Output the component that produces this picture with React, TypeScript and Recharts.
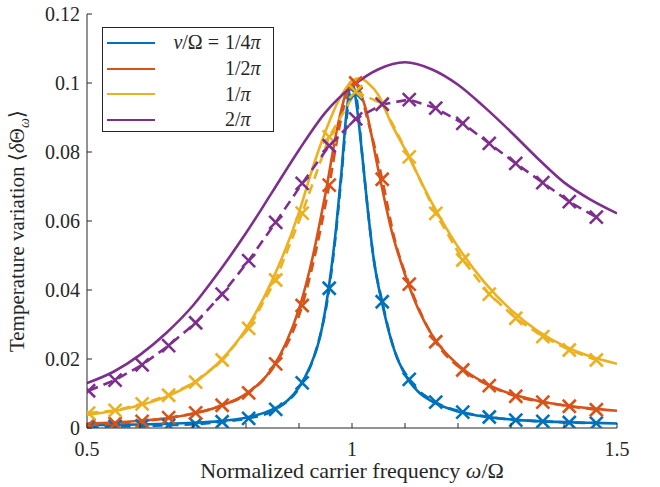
import React from 'react';
import { LineChart, Line, XAxis, YAxis, Legend, Label } from 'recharts';

const FONT = "'Liberation Serif', 'DejaVu Serif', 'Noto Serif', 'Times New Roman', Times, serif";
const AXIS = '#262626';

const colors = ['#0072BD', '#D95319', '#EDB120', '#7E2F8E'];
const legendValues = ['1/4', '1/2', '1/', '2/'];

const xTicks = [0.5, 0.6, 0.7, 0.8, 0.9, 1.0, 1.1, 1.2, 1.3, 1.4, 1.5];
const xTickLabels = ['0.5', '', '', '', '', '1', '', '', '', '', '1.5'];
const yTicks = [0, 0.02, 0.04, 0.06, 0.08, 0.1, 0.12];
const yTickLabels = ['0', '0.02', '0.04', '0.06', '0.08', '0.1', '0.12'];

// simulated points (x markers)
const simX = [0.503, 0.553, 0.604, 0.654, 0.705, 0.755, 0.805, 0.856, 0.906, 0.957, 1.007, 1.057, 1.108, 1.158, 1.209, 1.259, 1.309, 1.36, 1.41, 1.461];
const blueSim = [0.0004, 0.0005, 0.0006, 0.0008, 0.0011, 0.0018, 0.0028, 0.0054, 0.0131, 0.0405, 0.097, 0.0366, 0.0141, 0.0075, 0.0046, 0.0032, 0.0023, 0.0019, 0.0016, 0.0014];
const orangeSim = [0.0009, 0.0013, 0.0019, 0.003, 0.0044, 0.0066, 0.0102, 0.0186, 0.0355, 0.0704, 0.1, 0.0721, 0.0417, 0.025, 0.0168, 0.0123, 0.0092, 0.0075, 0.0063, 0.0053];
const yellowSim = [0.0043, 0.0051, 0.007, 0.0095, 0.0133, 0.0197, 0.0289, 0.0429, 0.0623, 0.0844, 0.0975, 0.094, 0.0786, 0.0622, 0.0487, 0.0388, 0.0318, 0.0265, 0.0226, 0.0197];
const purpleSim = [0.0108, 0.0139, 0.0183, 0.0239, 0.0305, 0.0388, 0.0485, 0.0596, 0.0709, 0.0818, 0.0896, 0.0938, 0.0952, 0.0927, 0.0883, 0.0825, 0.0767, 0.0711, 0.0656, 0.0611];

// dashed simulation curves near the narrow peaks (they run under the solid lines)
const blueDashX = [0.503, 0.553, 0.604, 0.654, 0.705, 0.755, 0.805, 0.856, 0.906, 0.93, 0.957, 0.97, 0.98, 0.99, 1.0, 1.007, 1.02, 1.03, 1.04, 1.057, 1.08, 1.108, 1.158, 1.209, 1.259, 1.309, 1.36, 1.41, 1.461];
const blueDashY = [0.0004, 0.0005, 0.0006, 0.0008, 0.0011, 0.0018, 0.0028, 0.0054, 0.0131, 0.0215, 0.0405, 0.057, 0.073, 0.09, 0.099, 0.097, 0.078, 0.063, 0.05, 0.0366, 0.0225, 0.0141, 0.0075, 0.0046, 0.0032, 0.0023, 0.0019, 0.0016, 0.0014];
const orangeDashX = [0.503, 0.553, 0.604, 0.654, 0.705, 0.755, 0.805, 0.856, 0.906, 0.93, 0.957, 0.98, 1.0, 1.007, 1.03, 1.057, 1.08, 1.108, 1.158, 1.209, 1.259, 1.309, 1.36, 1.41, 1.461];
const orangeDashY = [0.0009, 0.0013, 0.0019, 0.003, 0.0044, 0.0066, 0.0102, 0.0186, 0.0355, 0.05, 0.0704, 0.09, 0.1, 0.1, 0.089, 0.0721, 0.055, 0.0417, 0.025, 0.0168, 0.0123, 0.0092, 0.0075, 0.0063, 0.0053];

// theory curves (solid)
const blueX = [0.5, 0.55, 0.6, 0.65, 0.7, 0.75, 0.8, 0.85, 0.88, 0.9, 0.92, 0.94, 0.96, 0.97, 0.98, 0.99, 1.0, 1.01, 1.02, 1.03, 1.04, 1.06, 1.08, 1.1, 1.125, 1.15, 1.2, 1.25, 1.3, 1.35, 1.4, 1.45, 1.5];
const blueY = [0.0008, 0.0009, 0.001, 0.0012, 0.0015, 0.002, 0.003, 0.0054, 0.0082, 0.0118, 0.0175, 0.0265, 0.045, 0.058, 0.074, 0.092, 0.1003, 0.092, 0.078, 0.063, 0.05, 0.034, 0.0225, 0.0155, 0.0105, 0.0078, 0.0048, 0.0033, 0.0025, 0.002, 0.0017, 0.0015, 0.0013];
const orangeX = [0.5, 0.55, 0.6, 0.65, 0.7, 0.75, 0.8, 0.85, 0.875, 0.9, 0.925, 0.95, 0.975, 1.0, 1.025, 1.05, 1.075, 1.1, 1.125, 1.15, 1.2, 1.25, 1.3, 1.35, 1.4, 1.45, 1.5];
const orangeY = [0.0013, 0.0016, 0.0021, 0.0028, 0.0041, 0.0063, 0.0099, 0.0175, 0.0245, 0.0345, 0.049, 0.068, 0.089, 0.1005, 0.093, 0.0745, 0.057, 0.0445, 0.0345, 0.0272, 0.0183, 0.0131, 0.0099, 0.0079, 0.0066, 0.0057, 0.005];
const yellowX = [0.5, 0.55, 0.6, 0.65, 0.7, 0.75, 0.8, 0.85, 0.9, 0.925, 0.95, 0.975, 1.0, 1.015, 1.03, 1.05, 1.075, 1.1, 1.15, 1.2, 1.25, 1.3, 1.35, 1.4, 1.45, 1.5];
const yellowY = [0.0038, 0.0049, 0.0066, 0.0091, 0.013, 0.0192, 0.0287, 0.043, 0.0625, 0.075, 0.086, 0.095, 0.1005, 0.1014, 0.1, 0.0965, 0.088, 0.0808, 0.0655, 0.0525, 0.0422, 0.0342, 0.0282, 0.0238, 0.0207, 0.0186];
const purpleX = [0.5, 0.55, 0.6, 0.65, 0.7, 0.75, 0.8, 0.85, 0.9, 0.95, 1.0, 1.05, 1.1, 1.15, 1.2, 1.25, 1.3, 1.35, 1.4, 1.45, 1.5];
const purpleY = [0.013, 0.0163, 0.0212, 0.0276, 0.0355, 0.0455, 0.0565, 0.0685, 0.0806, 0.0915, 0.099, 0.104, 0.106, 0.104, 0.0995, 0.093, 0.0858, 0.0782, 0.0712, 0.0662, 0.0622];

const pts = (xs: number[], ys: number[]) => xs.map((x, i) => ({ x, y: ys[i] }));

const theory = [pts(blueX, blueY), pts(orangeX, orangeY), pts(yellowX, yellowY), pts(purpleX, purpleY)];
const sims = [pts(simX, blueSim), pts(simX, orangeSim), pts(simX, yellowSim), pts(simX, purpleSim)];
const dashes = [pts(blueDashX, blueDashY), pts(orangeDashX, orangeDashY), sims[2], sims[3]];
const dashTypes: ('monotone' | 'linear')[] = ['monotone', 'monotone', 'linear', 'linear'];

const XMark = (props: any) => {
  const { cx, cy, index, color } = props;
  if (cx == null || cy == null) return <g key={`e${index}`} />;
  const s = 6.5;
  return (
    <path
      key={`m${index}`}
      d={`M${cx - s},${cy - s}L${cx + s},${cy + s}M${cx - s},${cy + s}L${cx + s},${cy - s}`}
      stroke={color}
      strokeWidth={2.6}
      fill="none"
    />
  );
};

const BottomTick = ({ x, y, index }: any) => (
  <g>
    <line x1={x} x2={x} y1={y} y2={y - 5} stroke={AXIS} />
    {xTickLabels[index] && (
      <text x={x} y={y + 28} textAnchor="middle" fontFamily={FONT} fontSize={20} fill={AXIS}>
        {xTickLabels[index]}
      </text>
    )}
  </g>
);
const TopTick = ({ x, y }: any) => <line x1={x} x2={x} y1={y} y2={y + 5} stroke={AXIS} />;
const LeftTick = ({ x, y, index }: any) => (
  <g>
    <line x1={x} x2={x + 5} y1={y} y2={y} stroke={AXIS} />
    <text x={x - 7} y={y + 7} textAnchor="end" fontFamily={FONT} fontSize={20} fill={AXIS}>
      {yTickLabels[index]}
    </text>
  </g>
);
const RightTick = ({ x, y }: any) => <line x1={x} x2={x - 5} y1={y} y2={y} stroke={AXIS} />;

const XTitle = ({ viewBox }: any) => (
  <text x={viewBox.x + viewBox.width / 2} y={viewBox.y + 50} textAnchor="middle" fontFamily={FONT} fontSize={22} fill={AXIS}>
    Normalized carrier frequency <tspan fontStyle="italic">ω</tspan>/Ω
  </text>
);
const YTitle = ({ viewBox }: any) => {
  const cx = 24;
  const cy = viewBox.y + viewBox.height / 2 + 10;
  return (
    <text x={cx} y={cy} transform={`rotate(-90 ${cx} ${cy})`} textAnchor="middle" fontFamily={FONT} fontSize={21} fill={AXIS}>
      Temperature variation ⟨<tspan fontStyle="italic">δ</tspan>Θ
      <tspan fontStyle="italic" fontSize={14} dy={5}>ω</tspan>
      <tspan dy={-5}>⟩</tspan>
    </text>
  );
};

const LegendBox = () => (
  <div style={{ border: `1px solid ${AXIS}`, background: '#fff', width: 172, height: 105, boxSizing: 'border-box', paddingTop: 2, fontFamily: FONT, fontSize: 20, color: AXIS }}>
    {legendValues.map((v, i) => (
      <div key={v} style={{ display: 'flex', alignItems: 'center', height: 25.7 }}>
        <div style={{ width: 48, marginLeft: 4, borderTop: `2.6px solid ${colors[i]}` }} />
        <div style={{ width: 70, textAlign: 'right', paddingRight: 6, boxSizing: 'border-box', whiteSpace: 'nowrap' }}>
          {i === 0 ? (
            <span>
              <i>ν</i>/Ω =
            </span>
          ) : null}
        </div>
        <div style={{ whiteSpace: 'nowrap' }}>
          {v}
          <i>π</i>
        </div>
      </div>
    ))}
  </div>
);

export default function App() {
  return (
    <div style={{ position: 'absolute', left: 0, top: 0, background: '#fff' }}>
      <LineChart width={660} height={487} margin={{ top: 14, right: 43, bottom: 0, left: 0 }}>
        <XAxis
          dataKey="x"
          type="number"
          domain={[0.5, 1.5]}
          ticks={xTicks}
          interval={0}
          height={59}
          tickSize={0}
          tickMargin={0}
          tickLine={false}
          tick={<BottomTick />}
          axisLine={{ stroke: AXIS }}
          allowDataOverflow
        >
          <Label content={<XTitle />} />
        </XAxis>
        <XAxis
          xAxisId="top"
          orientation="top"
          dataKey="x"
          type="number"
          domain={[0.5, 1.5]}
          ticks={xTicks}
          interval={0}
          height={0}
          tickSize={0}
          tickMargin={0}
          tickLine={false}
          tick={<TopTick />}
          axisLine={{ stroke: AXIS }}
          allowDataOverflow
        />
        <YAxis
          type="number"
          domain={[0, 0.12]}
          ticks={yTicks}
          interval={0}
          width={87}
          tickSize={0}
          tickMargin={0}
          tickLine={false}
          tick={<LeftTick />}
          axisLine={{ stroke: AXIS }}
          allowDataOverflow
        >
          <Label content={<YTitle />} />
        </YAxis>
        <YAxis
          yAxisId="right"
          orientation="right"
          type="number"
          domain={[0, 0.12]}
          ticks={yTicks}
          interval={0}
          width={0}
          tickSize={0}
          tickMargin={0}
          tickLine={false}
          tick={<RightTick />}
          axisLine={{ stroke: AXIS }}
          allowDataOverflow
        />
        {colors.map((c, i) => (
          <React.Fragment key={c}>
            <Line
              data={dashes[i]}
              dataKey="y"
              type={dashTypes[i]}
              stroke={c}
              strokeWidth={2.6}
              strokeDasharray="10 6"
              dot={false}
              activeDot={false}
              isAnimationActive={false}
            />
            <Line
              data={theory[i]}
              dataKey="y"
              type="monotone"
              stroke={c}
              strokeWidth={2.6}
              dot={false}
              activeDot={false}
              isAnimationActive={false}
            />
            <Line
              data={sims[i]}
              dataKey="y"
              stroke="none"
              dot={(p: any) => <XMark {...p} color={c} key={`d${i}-${p.index}`} />}
              activeDot={false}
              isAnimationActive={false}
            />
          </React.Fragment>
        ))}
        <Legend
          layout="vertical"
          align="center"
          verticalAlign="middle"
          wrapperStyle={{ left: 102, top: 27, width: 172, height: 105 }}
          content={() => <LegendBox />}
        />
      </LineChart>
    </div>
  );
}
